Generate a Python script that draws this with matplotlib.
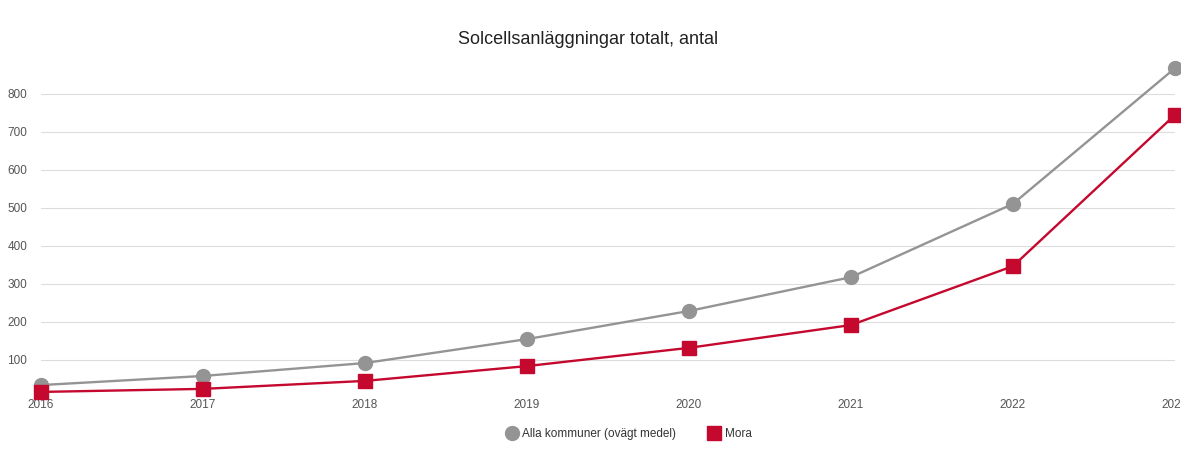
import matplotlib
matplotlib.use("Agg")
import matplotlib.pyplot as plt
from matplotlib.lines import Line2D

years = [2016, 2017, 2018, 2019, 2020, 2021, 2022, 2023]
alla = [34, 58, 92, 155, 229, 318, 511, 868]
mora = [16, 24, 45, 84, 132, 192, 347, 745]
yticks = [100, 200, 300, 400, 500, 600, 700, 800]
title = "Solcellsanläggningar totalt, antal"
labels = ["Alla kommuner (ovägt medel)", "Mora"]

GRAY = "#949494"
RED = "#c4082e"

plt.rcParams['font.family'] = ['Liberation Sans', 'DejaVu Sans']

W, H = 1181, 457
fig = plt.figure(figsize=(W/100, H/100), dpi=100)
x0, x1 = 41, 1175
ytop, ybot = 56, 398
ax = fig.add_axes([x0/W, 1 - ybot/H, (x1-x0)/W, (ybot-ytop)/H])
ax.set_xlim(2016, 2023)
ax.set_ylim(0, 900)

ax.plot(years, alla, color=GRAY, lw=1.7, marker='o', ms=10, mec=GRAY, mfc=GRAY, clip_on=False, zorder=3)
ax.plot(years, mora, color=RED, lw=1.7, marker='s', ms=10, mec=RED, mfc=RED, clip_on=False, zorder=4)

ax.set_yticks(yticks)
ax.set_yticklabels([str(v) for v in yticks], fontsize=8.5, color="#555555")
ax.set_xticks(years)
ax.set_xticklabels([str(y) for y in years], fontsize=8.5, color="#555555")
ax.tick_params(axis='both', length=0)
ax.tick_params(axis='y', pad=10)
ax.tick_params(axis='x', pad=1)
ax.grid(axis='y', color="#dddddd", lw=0.8)
ax.set_axisbelow(True)
for s in ax.spines.values():
    s.set_visible(False)

fig.text(588/W, 1 - 40/H, title, ha='center', va='center', fontsize=13, color="#222222")

handles = [Line2D([], [], ls='none', marker='o', ms=10, color=GRAY),
           Line2D([], [], ls='none', marker='s', ms=10, color=RED)]
fig.legend(handles, labels, loc='center', bbox_to_anchor=(628/W, 1 - 434/H), ncol=2,
           frameon=False, fontsize=8.5, handletextpad=0.3, columnspacing=2.6, handlelength=1.2,
           labelcolor="#333333")

fig.savefig("out.png", dpi=100)
